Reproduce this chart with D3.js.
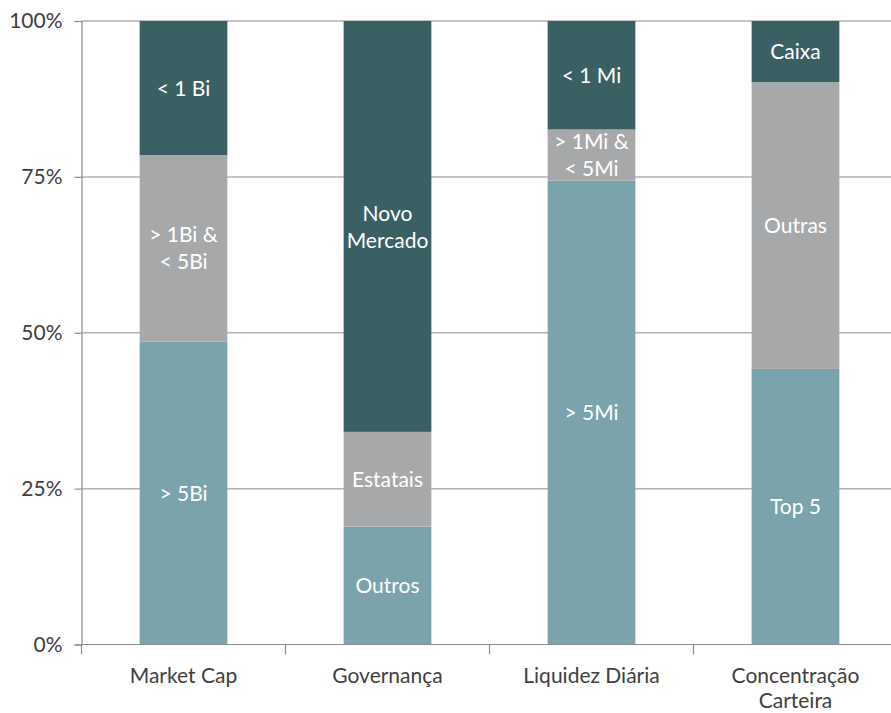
<!DOCTYPE html>
<html>
<head>
<meta charset="UTF-8">
<script src="https://d3js.org/d3.v7.min.js"></script>
<style>
  body { margin: 0; background: #fff; }
  text { font-family: "Lato", "Open Sans", sans-serif; }
</style>
</head>
<body>
<div id="chart"></div>
<script>
// categories and stacked shares (bottom -> top), percent
var categories = ["Market Cap", "Governança", "Liquidez Diária", "Concentração Carteira"];
var bottomValues = [48.6, 18.9, 74.4, 44.2];
var middleValues = [29.9, 15.2, 8.2, 46.0];
var topValues    = [21.5, 65.9, 17.4, 9.8];
var bottomLabels = [["> 5Bi"], ["Outros"], ["> 5Mi"], ["Top 5"]];
var middleLabels = [["> 1Bi &", "< 5Bi"], ["Estatais"], ["> 1Mi &", "< 5Mi"], ["Outras"]];
var topLabels    = [["< 1 Bi"], ["Novo", "Mercado"], ["< 1 Mi"], ["Caixa"]];
var yTicks = [0, 25, 50, 75, 100];

var W = 891, H = 713;
var plotLeft = 81.5, plotTop = 21, plotBottom = 644.5;

var svg = d3.select("#chart").append("svg")
  .attr("width", W).attr("height", H);

var x = d3.scaleBand()
  .domain(categories)
  .range([plotLeft, plotLeft + 816])
  .paddingInner(0.57)
  .paddingOuter(0.285);

var y = d3.scaleLinear().domain([0, 100]).range([plotBottom, plotTop]);

// gridlines
svg.append("g").selectAll("line")
  .data(yTicks.filter(function(d) { return d > 0; }))
  .enter().append("line")
    .attr("x1", plotLeft).attr("x2", W)
    .attr("y1", function(d) { return y(d); })
    .attr("y2", function(d) { return y(d); })
    .attr("stroke", "#b3b3b3").attr("stroke-width", 1.5);

// stacked bars
var series = [
  { values: bottomValues, labels: bottomLabels, color: "#7ba3ab" },
  { values: middleValues, labels: middleLabels, color: "#a7a8aa" },
  { values: topValues,    labels: topLabels,    color: "#3b6064" }
];

var rows = [];
categories.forEach(function(c, i) {
  var base = 0;
  series.forEach(function(s) {
    rows.push({ cat: c, y0: base, y1: base + s.values[i], color: s.color, label: s.labels[i] });
    base += s.values[i];
  });
});

svg.append("g").selectAll("rect")
  .data(rows)
  .enter().append("rect")
    .attr("x", function(d) { return x(d.cat); })
    .attr("width", x.bandwidth())
    .attr("y", function(d) { return y(d.y1); })
    .attr("height", function(d) { return y(d.y0) - y(d.y1); })
    .attr("fill", function(d) { return d.color; });

// labels inside segments
var lineH = 27;
var lab = svg.append("g").selectAll("text")
  .data(rows)
  .enter().append("text")
    .attr("text-anchor", "middle")
    .attr("fill", "#fff")
    .attr("font-size", 21)
    .attr("x", function(d) { return x(d.cat) + x.bandwidth() / 2; })
    .attr("y", function(d) {
      var mid = (y(d.y0) + y(d.y1)) / 2;
      return mid - (d.label.length - 1) * lineH / 2;
    });
lab.selectAll("tspan")
  .data(function(d) { return d.label.map(function(t) { return { t: t, x: x(d.cat) + x.bandwidth() / 2 }; }); })
  .enter().append("tspan")
    .attr("x", function(d) { return d.x; })
    .attr("dy", function(d, i) { return i === 0 ? "0.36em" : lineH; })
    .text(function(d) { return d.t; });

// y axis
var yAxis = svg.append("g")
  .attr("transform", "translate(" + plotLeft + ",0)")
  .call(d3.axisLeft(y).tickValues(yTicks).tickFormat(function(d) { return d + "%"; }).tickSize(7).tickPadding(12));
yAxis.select(".domain").attr("stroke", "#8c8c8c").attr("stroke-width", 1.2);
yAxis.selectAll(".tick line").attr("stroke", "#8c8c8c").attr("stroke-width", 1.2);
yAxis.selectAll("text").attr("font-size", 21).attr("fill", "#404040")
  .style("font-family", "Lato, sans-serif");

// x axis
var bounds = categories.map(function(c) { return x(c) - x.step() * x.paddingInner() / 2; });
svg.append("line")
  .attr("x1", plotLeft).attr("x2", W).attr("y1", plotBottom).attr("y2", plotBottom)
  .attr("stroke", "#8c8c8c").attr("stroke-width", 1.2);
svg.append("g").selectAll("line")
  .data(bounds)
  .enter().append("line")
    .attr("x1", function(d) { return d; }).attr("x2", function(d) { return d; })
    .attr("y1", plotBottom).attr("y2", plotBottom + 10)
    .attr("stroke", "#8c8c8c").attr("stroke-width", 1.2);

var xLab = svg.append("g").selectAll("text")
  .data(categories)
  .enter().append("text")
    .attr("text-anchor", "middle")
    .attr("fill", "#404040")
    .attr("font-size", 21)
    .attr("x", function(d) { return x(d) + x.bandwidth() / 2; })
    .attr("y", 683);
xLab.selectAll("tspan")
  .data(function(d) {
    var cx = x(d) + x.bandwidth() / 2;
    var parts = d === "Concentração Carteira" ? ["Concentração", "Carteira"] : [d];
    return parts.map(function(t) { return { t: t, x: cx }; });
  })
  .enter().append("tspan")
    .attr("x", function(d) { return d.x; })
    .attr("dy", function(d, i) { return i === 0 ? 0 : 25; })
    .text(function(d) { return d.t; });
</script>
</body>
</html>
